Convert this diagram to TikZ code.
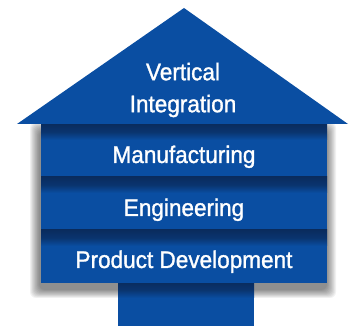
\documentclass[tikz,border=0pt]{standalone}
\usepackage{fontspec}
\setmainfont[FakeStretch=0.94, FakeBold=1.2]{Liberation Sans}
\begin{document}
\definecolor{bandblue}{HTML}{0A4EA2}
\definecolor{banddark}{HTML}{0A2C5E}
\tikzset{
  x=1pt, y=-1pt,
  block/.style={fill=bandblue},
  topshade/.style={top color=banddark, bottom color=bandblue, middle color=banddark!75!bandblue},
  label/.style={text=white, inner sep=0pt, font=\fontsize{24}{32}\selectfont},
}
\begin{tikzpicture}
\useasboundingbox (0,0) rectangle (349,326);

% soft drop shadow behind the stacked blocks
\foreach \k in {0,...,10}{
  \fill[black, opacity=0.05, rounded corners=6pt]
    (30+\k*0.9, 122+\k*0.8) rectangle (336-\k*0.9, 298-\k*0.8);
}

% stem
\fill[block] (118,282) rectangle (254,326);
\shade[topshade] (118,282) rectangle (254,298);

% three stacked bands
\foreach \t in {124,177,230}{
  \fill[block] (41,\t) rectangle (327,\t+53);
  \shade[topshade] (41,\t) rectangle (327,\t+16);
}

% roof
\fill[block] (184,8) -- (348,124) -- (17,124) -- cycle;

% labels
\node[label, align=center] (roof) at (183,90) {Vertical\\Integration};
\node[label, anchor=base] (manu) at (184,163) {Manufacturing};
\node[label, anchor=base] (eng) at (184,216) {Engineering};
\node[label, anchor=base] (dev) at (184,268) {Product Development};
\end{tikzpicture}
\end{document}
